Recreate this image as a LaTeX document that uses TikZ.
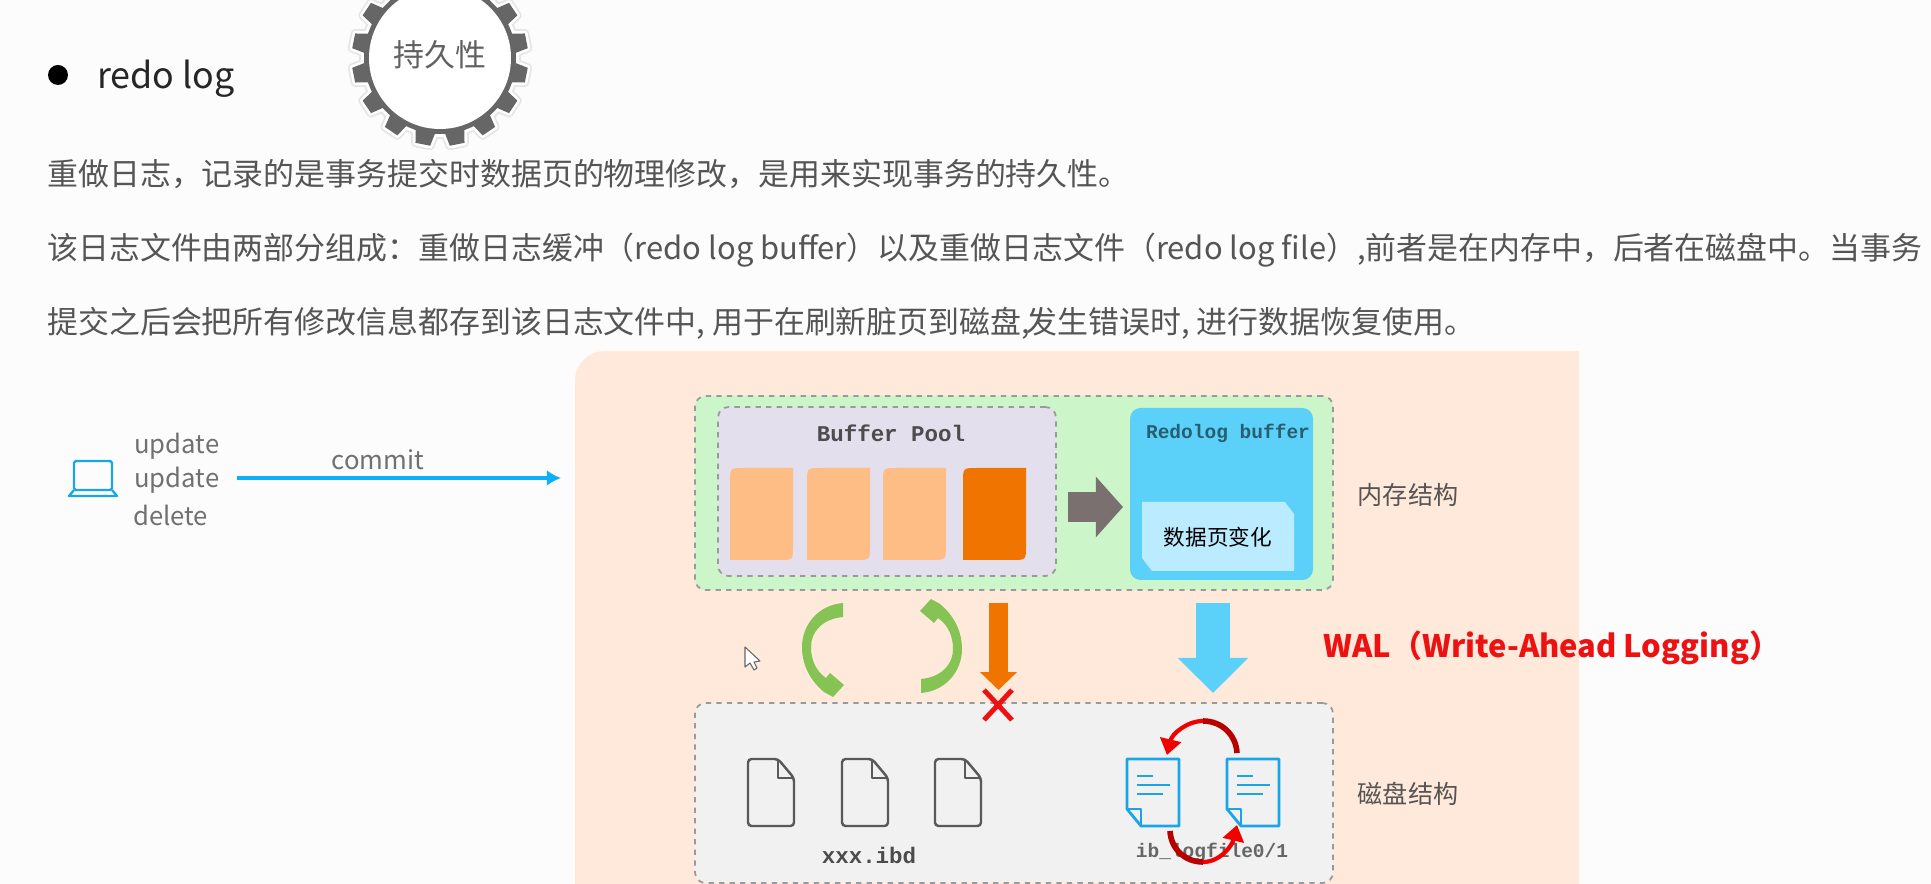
\documentclass[tikz,border=0pt]{standalone}
\usepackage{fontspec}
\setmainfont{Noto Sans CJK SC}
\newfontfamily\codefont{Liberation Mono}
\usetikzlibrary{arrows.meta,fit}
\definecolor{peach}{HTML}{FFE9DB}
\definecolor{memgreen}{HTML}{CDF5CA}
\definecolor{poolgray}{HTML}{E3DFEC}
\definecolor{diskgray}{HTML}{F1F1F1}
\definecolor{pagelight}{HTML}{FFBD86}
\definecolor{pagedark}{HTML}{F07400}
\definecolor{redoblue}{HTML}{5BD1FA}
\definecolor{changeblue}{HTML}{BBEBFF}
\definecolor{arrowgray}{HTML}{7A7070}
\definecolor{curvegreen}{HTML}{84C354}
\definecolor{docblue}{HTML}{1AA5E8}
\definecolor{linkblue}{HTML}{0DB0F7}
\definecolor{dashgray}{HTML}{9A9A9A}
\definecolor{textgray}{HTML}{555555}
\definecolor{labelgray}{HTML}{707070}
\definecolor{walred}{HTML}{EE1111}
\tikzset{
  dashbox/.style={draw=dashgray, dashed, line width=1pt, rounded corners=6pt, inner sep=0pt},
  plainbox/.style={rounded corners=6pt, inner sep=0pt},
  para/.style={anchor=west, inner sep=0pt, text=textgray, font=\fontsize{17.6}{20}\selectfont},
  oplabel/.style={anchor=west, inner sep=0pt, text=labelgray, font=\fontsize{14.6}{18}\selectfont},
  sidelabel/.style={inner sep=0pt, text=textgray, font=\fontsize{14.3}{18}\selectfont},
  codelabel/.style={inner sep=0pt, font=\codefont\bfseries\fontsize{12.8}{15}\selectfont},
  smallcode/.style={inner sep=0pt, font=\codefont\bfseries\fontsize{11.1}{14}\selectfont},
  bigarrow/.style={line width=#1},
  swaparc/.style={line width=3.2pt}
}
\begin{document}
\begin{tikzpicture}[x=0.02cm, y=-0.02cm]
  \useasboundingbox (0,0) rectangle (1931,884);
  \clip (0,0) rectangle (1931,884);
  \fill[white!99!black] (0,0) rectangle (1931,884);
  % heading and gear
  \fill[black] (58,75) circle (10);
  \node[para, text=black!85, font=\fontsize{20.4}{24}\selectfont] (heading) at (97,79) {redo log};
  \begin{scope}[shift={(440,58)}]
    \foreach \a in {11.25,33.75,...,360} {
      \draw[black!10, line width=5pt, line join=round, rotate=\a] (74,-10) -- (88,-7.5) -- (88,7.5) -- (74,10) -- cycle;
    }
    \fill[black!10] (0,0) circle (81);
    \foreach \a in {11.25,33.75,...,360} {
      \draw[white, line width=3pt, line join=round, rotate=\a] (74,-10) -- (88,-7.5) -- (88,7.5) -- (74,10) -- cycle;
    }
    \fill[white] (0,0) circle (79);
    \foreach \a in {11.25,33.75,...,360} {
      \fill[black!60, rotate=\a] (74,-10) -- (88,-7.5) -- (88,7.5) -- (74,10) -- cycle;
    }
    \fill[black!60] (0,0) circle (76);
    \fill[white] (0,0) circle (71);
  \end{scope}
  \node[sidelabel, font=\fontsize{17.6}{20}\selectfont, text=black!62] (durable) at (440,55) {持久性};
  % paragraph
  \node[para] (lineone) at (47,174) {重做日志，记录的是事务提交时数据页的物理修改，是用来实现事务的持久性。};
  \node[para] (linetwo) at (47,250) {该日志文件由两部分组成：重做日志缓冲（redo log buffer）以及重做日志文件（redo log file）,前者是在内存中，后者在磁盘中。当事务};
  \node[para] (linethree) at (47,323) {提交之后会把所有修改信息都存到该日志文件中, 用于在刷新脏页到磁盘,\kern-2pt 发生错误时, 进行数据恢复使用。};
  % peach area
  \fill[peach] (575,884) [rounded corners=17pt] -- (575,351) [sharp corners] -- (1579,351) -- (1579,884) -- cycle;
  % client side
  \draw[docblue, line width=1.3pt, rounded corners=1pt] (74,490) -- (74,461) -- (112,461) -- (112,490) -- cycle;
  \draw[docblue, line width=1.3pt, line join=round] (74,490) -- (69,496) -- (117,496) -- (112,490);
  \node[oplabel] (updateone) at (134,446) {update};
  \node[oplabel] (updatetwo) at (134,480) {update};
  \node[oplabel] (deleteop) at (133,515) {delete};
  \coordinate (areaentry) at (561,478);
  \draw[linkblue, line width=2.2pt, -{Latex[length=8pt,width=9pt]}, shorten <=10pt] (updatetwo.east |- areaentry) -- (areaentry);
  \node[oplabel, anchor=center] (commitop) at (378,460) {commit};
  % memory part
  \node[dashbox, fill=memgreen, fit={(695,396) (1333,590)}] (membox) {};
  \node[dashbox, fill=poolgray, fit={(718,407) (1056,576)}] (poolbox) {};
  \node[codelabel, text=black!70] (poollabel) at (891,433) {Buffer Pool};
  \foreach \px/\pc in {730/pagelight, 807/pagelight, 883/pagelight, 963/pagedark} {
    \fill[\pc] (\px+14,468) -- (\px+63,468) -- (\px+63,546) .. controls (\px+63,560) .. (\px+49,560) -- (\px,560) -- (\px,482) .. controls (\px,468) .. (\px+14,468) -- cycle;
  }
  \node[plainbox, fill=redoblue, fit={(1130,408) (1313,580)}] (redobox) {};
  \node[smallcode, text=black!55!redoblue] (redolabel) at (1228,433) {Redolog buffer};
  \fill[changeblue] (1142,502) -- (1285,502) -- (1294,514) -- (1294,571) -- (1152,571) -- (1142,558) -- cycle;
  \node[inner sep=0pt, text=black, font=\fontsize{12.3}{15}\selectfont] (changelabel) at (1218,537) {数据页变化};
  \coordinate (graystart) at (1068,507);
  \coordinate (grayend) at (1123,507);
  \draw[arrowgray, bigarrow=17pt, -{Triangle[length=15.4pt,width=33.6pt]}] (graystart) -- (grayend);
  \node[sidelabel] (memlabel) at (1408,495) {内存结构};
  % disk part
  \node[dashbox, fill=diskgray, fit={(695,703) (1333,883)}] (diskbox) {};
  \foreach \fx in {748,842,935} {
    \draw[black!65, line width=1.4pt, line join=round, rounded corners=2pt] (\fx+30,759) -- (\fx,759) -- (\fx,826) -- (\fx+46,826) -- (\fx+46,778) -- cycle;
    \draw[black!65, line width=1.4pt, line join=round] (\fx+30,759) -- (\fx+30,778) -- (\fx+46,778);
  }
  \node[codelabel, text=black!70] (ibdlabel) at (869,855) {xxx.ibd};
  \foreach \dx in {1127,1227} {
    \draw[docblue, line width=1.6pt, line join=round] (\dx,759) -- (\dx+52,759) -- (\dx+52,826) -- (\dx+14,826) -- (\dx,809) -- cycle;
    \draw[docblue, line width=1.4pt, line join=round] (\dx,809) -- (\dx+14,809) -- (\dx+14,826);
    \draw[docblue, line width=1.7pt] (\dx+10,776) -- (\dx+26,776);
    \draw[docblue, line width=1.7pt] (\dx+10,785) -- (\dx+43,785);
    \draw[docblue, line width=1.7pt] (\dx+10,794) -- (\dx+36,794);
  }
  \node[smallcode, text=black!60] (loglabel) at (1212,852) {ib\_logfile0/1};
  \node[sidelabel] (disklabel) at (1408,794) {磁盘结构};
  % swap arcs
  \coordinate (topstart) at (1237,753);
  \coordinate (topmid) at (1203,721);
  \coordinate (topend) at (1167,755);
  \coordinate (lowstart) at (1170,831);
  \coordinate (lowmid) at (1203,862);
  \coordinate (lowend) at (1237,825);
  \draw[swaparc, red!72!black] (topstart) .. controls (1236,735) and (1222,721) .. (topmid);
  \draw[swaparc, red!95!black, line width=2.4pt, -{Triangle[length=9pt,width=12pt]}] (topmid) .. controls (1187,721) and (1172,734) .. (topend);
  \draw[swaparc, red!72!black] (lowstart) .. controls (1171,849) and (1185,862) .. (lowmid);
  \draw[swaparc, red!95!black, line width=2.4pt, -{Triangle[length=9pt,width=12pt]}] (lowmid) .. controls (1220,862) and (1232,846) .. (lowend);
  % green curved arrows
  \foreach \turn in {0,180} {
    \fill[curvegreen, rotate around={\turn:(882,648)}] (843,603) .. controls (818,605) and (802,625) .. (802,647) .. controls (802,667) and (812,682) .. (824,692) -- (833,697) -- (844,685) -- (830,673) -- (826,678) .. controls (816,671) and (811,660) .. (811,647) .. controls (811,632) and (822,619) .. (843,617) -- cycle;
  }
  % flush arrows
  \coordinate (flushstart) at (998.5,603);
  \coordinate (flushend) at (998.5,690);
  \draw[pagedark, bigarrow=10.8pt, -{Triangle[length=10.2pt,width=20.5pt]}] (flushstart) -- (flushend);
  \draw[walred, line width=2.8pt] (984,690) -- (1012,720);
  \draw[walred, line width=2.8pt] (1012,690) -- (984,720);
  \coordinate (walstart) at (1213,603);
  \coordinate (walend) at (1213,693);
  \draw[redoblue, bigarrow=19.8pt, -{Triangle[length=20pt,width=39pt]}] (walstart) -- (walend);
  \node[anchor=west, inner sep=0pt, text=walred, font=\bfseries\fontsize{17.6}{20}\selectfont] (wallabel) at (1323,648) {WAL（Write-Ahead Logging）};
  % mouse pointer
  \draw[black!60, fill=white, line width=0.6pt, line join=round] (745,647) -- (745,667) -- (750,663) -- (754,670) -- (757,668) -- (754,662) -- (760,661) -- cycle;
\end{tikzpicture}
\end{document}
